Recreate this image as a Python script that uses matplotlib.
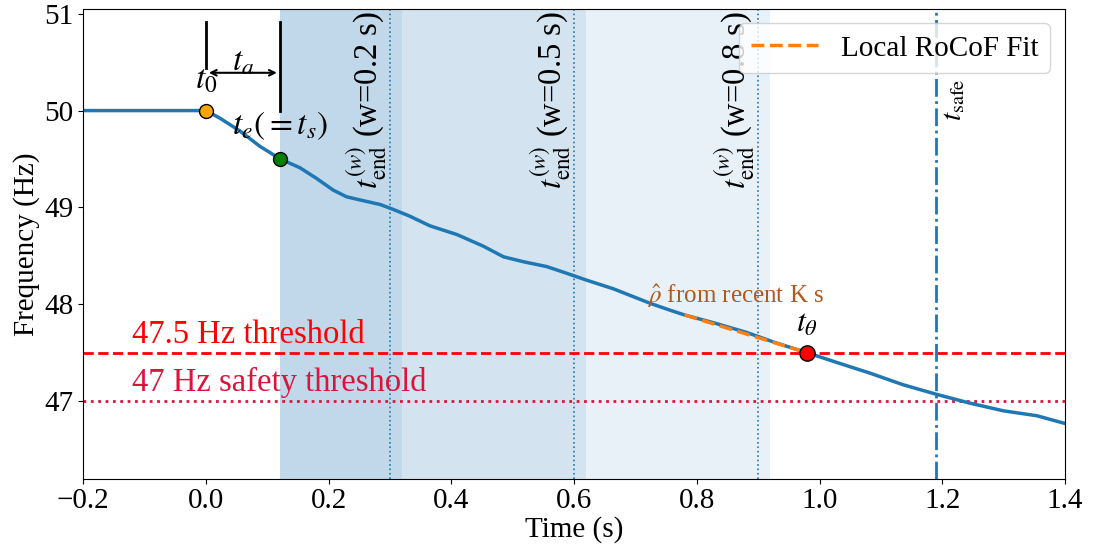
import matplotlib
matplotlib.use("Agg")
import matplotlib.pyplot as plt

plt.rcParams["font.family"] = ["Liberation Serif", "DejaVu Serif"]
plt.rcParams["mathtext.fontset"] = "stix"

# Frequency trace (s, Hz)
time_s = [-0.2, 0.0, 0.023, 0.055, 0.088, 0.121, 0.153, 0.18, 0.207, 0.229,
          0.256, 0.284, 0.305, 0.332, 0.365, 0.409, 0.452, 0.485, 0.517,
          0.555, 0.588, 0.62, 0.664, 0.696, 0.724, 0.756, 0.78, 0.827, 0.881,
          0.93, 0.98, 1.028, 1.082, 1.136, 1.191, 1.245, 1.30, 1.354, 1.40]
freq_hz = [50.0, 50.0, 49.92, 49.79, 49.63, 49.50, 49.41, 49.30, 49.18, 49.11,
           49.07, 49.03, 48.98, 48.91, 48.81, 48.72, 48.60, 48.49, 48.44,
           48.39, 48.32, 48.25, 48.16, 48.08, 48.01, 47.94, 47.89, 47.81,
           47.71, 47.60, 47.50, 47.40, 47.29, 47.17, 47.07, 46.98, 46.90,
           46.85, 46.77]

# Key instants
t0, f_t0 = 0.0, 50.0
t_e, f_te = 0.12, 49.5
t_theta, f_theta = 0.98, 47.5
t_safe = 1.19

# Observation windows
window_lengths = [0.2, 0.5, 0.8]
window_ends = [0.3, 0.6, 0.9]
window_span_ends = [0.32, 0.62, 0.92]

# Thresholds
thr_trip = 47.5
thr_safe = 47.0

# Local RoCoF fit segment
fit_t = [0.78, 0.98]
fit_f = [47.89, 47.50]

fig = plt.figure(figsize=(11.01, 5.54), dpi=100)
ax = fig.add_axes([0.0757, 0.136, 0.8915, 0.848])

for end in window_span_ends:
    ax.axvspan(t_e, end, color="C0", alpha=0.1, lw=0)

for w, end in zip(window_lengths, window_ends):
    ax.axvline(end, color="C0", ls=":", lw=1.2)
    ax.text(end - 0.002, 0.995, r"$t_{\mathrm{end}}^{(w)}$ (w=%.1f s)" % w,
            transform=ax.get_xaxis_transform(), rotation=90,
            ha="right", va="top", fontsize=23.5)

ax.axhline(thr_trip, color="red", ls="--", lw=2)
ax.axhline(thr_safe, color="crimson", ls=":", lw=2)
ax.text(-0.12, 47.6, "47.5 Hz threshold", color="red", fontsize=23.5)
ax.text(-0.12, 47.1, "47 Hz safety threshold", color="crimson", fontsize=23.5)

ax.axvline(t_safe, color="C0", ls="-.", lw=2)
ax.text(t_safe + 0.008, 50.33, r"$t_{\mathrm{safe}}$", rotation=90,
        ha="left", va="top", fontsize=21)

ax.plot(time_s, freq_hz, color="C0", lw=2.5)
ax.plot(fit_t, fit_f, color="C1", ls="--", lw=2.5, label="Local RoCoF Fit")

ax.plot([t0], [f_t0], "o", color="orange", mec="black", ms=10, zorder=5)
ax.plot([t_e], [f_te], "o", color="green", mec="black", ms=10, zorder=5)
ax.plot([t_theta], [f_theta], "o", color="red", mec="black", ms=11, zorder=5)

ax.plot([t0, t0], [50.44, 50.91], color="black", lw=2)
ax.plot([t_e, t_e], [50.0, 50.91], color="black", lw=2)
ax.annotate("", xy=(t_e, 50.39), xytext=(t0, 50.39),
            arrowprops=dict(arrowstyle="<->", color="black", lw=1.5))
ax.text((t0 + t_e) / 2, 50.5, r"$t_a$", ha="center", va="center", fontsize=24)
ax.text(t0, 50.31, r"$t_0$", ha="center", va="center", fontsize=24)
ax.text(t_e, 49.84, r"$t_e(=t_s)$", ha="center", va="center", fontsize=24)
ax.text(t_theta, 47.79, r"$t_\theta$", ha="center", va="center", fontsize=23)
ax.text(0.718, 48.01, r"$\hat{\rho}$ from recent K s", color="#b4581a",
        fontsize=18, ha="left", va="baseline")

ax.set_xlim(-0.2, 1.4)
ax.set_ylim(46.2, 51.05)
ax.set_xticks([-0.2, 0.0, 0.2, 0.4, 0.6, 0.8, 1.0, 1.2, 1.4])
ax.set_yticks([47, 48, 49, 50, 51])
ax.tick_params(labelsize=21)
ax.set_xlabel("Time (s)", fontsize=21, labelpad=1)
ax.set_ylabel("Frequency (Hz)", fontsize=21, labelpad=3)
ax.legend(loc="upper right", fontsize=21, handlelength=2.3)

fig.savefig("out.png", dpi=100)
